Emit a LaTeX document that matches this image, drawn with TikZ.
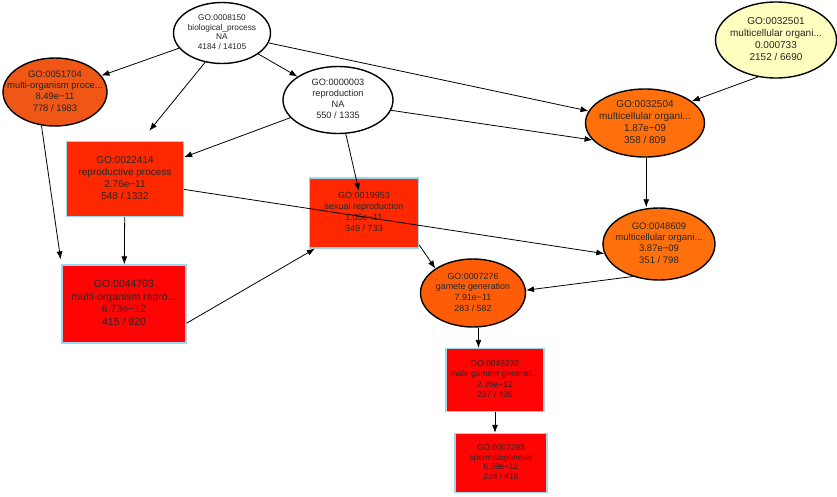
\documentclass[tikz,border=0pt]{standalone}
\usepackage{fontspec}
\setmainfont{Liberation Sans}
\usepackage{xcolor}
\usetikzlibrary{shapes.geometric, arrows.meta}

\definecolor{goyellow}{RGB}{255,255,192}
\definecolor{gooranged}{RGB}{240,86,22}
\definecolor{goorange}{RGB}{255,112,12}
\definecolor{goorangem}{RGB}{255,92,8}
\definecolor{gored}{RGB}{255,40,0}
\definecolor{gopure}{RGB}{255,4,4}
\definecolor{goframe}{RGB}{160,214,234}

% four lines of a GO term, zero width so the shape keeps its own size
\newcommand{\goterm}[4]{\makebox[0pt]{\begin{tabular}{@{}c@{}}#1\\#2\\#3\\#4\end{tabular}}}
\newcommand{\gofont}[1]{\fontsize{#1}{1.2\dimexpr #1pt\relax}\selectfont}

\begin{document}
\begin{tikzpicture}[x=1pt, y=-1pt,
        term/.style={ellipse, draw=black, line width=1.4pt, inner sep=0pt, text=black!85},
        box/.style={rectangle, draw=goframe, line width=1.3pt, inner sep=0pt, text=black!85},
        link/.style={draw, -{Latex[length=8pt, width=6pt]}, line width=0.8pt},
        ]
        \useasboundingbox (0,0) rectangle (837,496);

        % Terms
        \node[term, fill=white, minimum width=97, minimum height=61, font=\gofont{8.3}] (bp) at (222,33)
            {\goterm{GO:0008150}{biological\_process}{NA}{4184 / 14105}};
        \node[term, fill=gooranged, minimum width=104, minimum height=68, font=\gofont{9.4}] (mop) at (55,92)
            {\goterm{GO:0051704}{multi-organism proce...}{8.49e−11}{778 / 1983}};
        \node[term, fill=white, minimum width=110, minimum height=67, font=\gofont{9.2}] (repro) at (338,100)
            {\goterm{GO:0000003}{reproduction}{NA}{550 / 1335}};
        \node[term, fill=goyellow, minimum width=121, minimum height=76, font=\gofont{10}] (mcy) at (776,40)
            {\goterm{GO:0032501}{multicellular organi...}{0.000733}{2152 / 6690}};
        \node[term, fill=goorange, minimum width=119, minimum height=68, font=\gofont{10}] (mco) at (645,123)
            {\goterm{GO:0032504}{multicellular organi...}{1.87e−09}{358 / 809}};
        \node[box, fill=gored, minimum width=117, minimum height=75, font=\gofont{10}] (rp) at (125,179)
            {\goterm{GO:0022414}{reproductive process}{2.76e−11}{548 / 1332}};
        \node[box, fill=gored, minimum width=109, minimum height=70, font=\gofont{9}] (sr) at (364,213)
            {\goterm{GO:0019953}{sexual reproduction}{1.05e−11}{349 / 733}};
        \node[term, fill=goorange, minimum width=112, minimum height=72, font=\gofont{9.5}] (mcd) at (659,244)
            {\goterm{GO:0048609}{multicellular organi...}{3.87e−09}{351 / 798}};
        \node[box, fill=gopure, minimum width=124, minimum height=78, font=\gofont{10.5}] (morp) at (124,304)
            {\goterm{GO:0044703}{multi-organism repro...}{6.73e−12}{415 / 920}};
        \node[term, fill=goorangem, minimum width=105, minimum height=68, font=\gofont{8.9}] (gg) at (473,293)
            {\goterm{GO:0007276}{gamete generation}{7.91e−11}{283 / 582}};
        \node[box, fill=gopure, minimum width=98, minimum height=63, font=\gofont{8.5}] (mgg) at (495,380)
            {\goterm{GO:0048232}{male gamete generati...}{2.26e−12}{237 / 435}};
        \node[box, fill=gopure, minimum width=92, minimum height=59, font=\gofont{8.3}] (sg) at (501,463)
            {\goterm{GO:0007283}{spermatogenesis}{6.59e−12}{224 / 416}};

        % Links
        \draw[link] (bp) -- (mop);
        \draw[link, shorten >=13pt] (bp.240) -- (rp.67);
        \draw[link] (bp) -- (repro);
        \draw[link] (bp) -- (mco);
        \draw[link, shorten >=5pt] (mop.248) -- (morp.north west);
        \draw[link] (repro) -- (rp);
        \draw[link, shorten >=-14pt] (repro) -- (sr);
        \draw[link] (repro.-11) -- (mco.198);
        \draw[link] (mcy.244) -- (mco.25);
        \draw[link] (mco.-88) -- (mco.-88 |- mcd.north);
        \draw[link] (rp.-10) -- (mcd.190);
        \draw[link] (rp) -- (morp);
        \draw[link] (morp.-17) -- (sr.216);
        \draw[link] (sr.-30) -- (gg.147);
        \draw[link] (mcd.231) -- (gg.3);
        \draw[link] (gg.-81) -- (gg.-81 |- mgg.north);
        \draw[link] (mgg.south) -- (mgg.south |- sg.north);

    \end{tikzpicture}
\end{document}
